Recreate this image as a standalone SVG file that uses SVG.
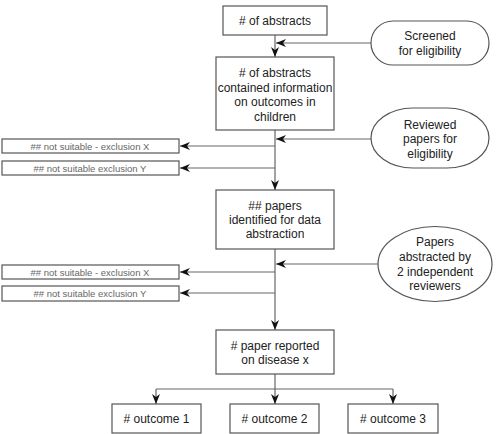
<svg xmlns="http://www.w3.org/2000/svg" width="496" height="434" viewBox="0 0 496 434">
<defs>
<style>
.box{fill:#fff;stroke:#555;stroke-width:1.2}
.t{font-family:"Liberation Sans",Arial,sans-serif;font-size:12px;fill:#222;text-anchor:middle;dominant-baseline:central}
.s{font-family:"Liberation Sans",Arial,sans-serif;font-size:9.5px;fill:#666;text-anchor:middle;dominant-baseline:central}
.c{fill:none;stroke:#666;stroke-width:1.2}
</style>
<marker id="ah" viewBox="0 0 10 8" refX="10" refY="4" markerWidth="10" markerHeight="8" markerUnits="userSpaceOnUse" orient="auto">
<path d="M0,0 L10,4 L0,8 L3,4 z" fill="#111"/>
</marker>
</defs>
<rect width="496" height="434" fill="#fff"/>
<g id="connectors">
<line class="c" x1="275" y1="35" x2="275" y2="57" marker-end="url(#ah)"/>
<line class="c" x1="371" y1="43" x2="276" y2="43" marker-end="url(#ah)"/>
<line class="c" x1="275" y1="130" x2="275" y2="190" marker-end="url(#ah)"/>
<line class="c" x1="371" y1="139" x2="276" y2="139" marker-end="url(#ah)"/>
<line class="c" x1="275" y1="146" x2="180" y2="146" marker-end="url(#ah)"/>
<line class="c" x1="275" y1="168" x2="180" y2="168" marker-end="url(#ah)"/>
<line class="c" x1="275" y1="249" x2="275" y2="330" marker-end="url(#ah)"/>
<line class="c" x1="378" y1="264" x2="276" y2="264" marker-end="url(#ah)"/>
<line class="c" x1="275" y1="272" x2="180" y2="272" marker-end="url(#ah)"/>
<line class="c" x1="275" y1="293" x2="180" y2="293" marker-end="url(#ah)"/>
<line class="c" x1="275" y1="374" x2="275" y2="404" marker-end="url(#ah)"/>
<line class="c" x1="156" y1="389" x2="393" y2="389"/>
<line class="c" x1="156" y1="389" x2="156" y2="404" marker-end="url(#ah)"/>
<line class="c" x1="393" y1="389" x2="393" y2="404" marker-end="url(#ah)"/>
</g>
<g id="n1"><rect class="box" x="223" y="6" width="104" height="29"/><text class="t" x="275" y="21"># of abstracts</text></g>
<g id="n2"><rect class="box" x="216" y="57" width="118" height="73"/>
<text class="t" x="275" y="73"># of abstracts</text><text class="t" x="275" y="88">contained information</text><text class="t" x="275" y="102">on outcomes in</text><text class="t" x="275" y="117">children</text></g>
<g id="e1"><rect class="box" x="371" y="21" width="118" height="44" rx="22" ry="22"/>
<text class="t" x="430" y="36">Screened</text><text class="t" x="430" y="51">for eligibility</text></g>
<g id="e2"><rect class="box" x="371" y="108" width="118" height="60" rx="42" ry="30"/>
<text class="t" x="430" y="125">Reviewed</text><text class="t" x="430" y="139">papers for</text><text class="t" x="430" y="154">eligibility</text></g>
<g id="x1"><rect class="box" x="2" y="139" width="177" height="14"/><text class="s" x="90" y="146">## not suitable - exclusion X</text></g>
<g id="x2"><rect class="box" x="2" y="161" width="177" height="14"/><text class="s" x="90" y="168">## not suitable exclusion Y</text></g>
<g id="n3"><rect class="box" x="216" y="190" width="118" height="59"/>
<text class="t" x="275" y="206">## papers</text><text class="t" x="275" y="220">identified for data</text><text class="t" x="275" y="234">abstraction</text></g>
<g id="e3"><ellipse class="box" cx="435" cy="264" rx="57" ry="37.5"/>
<text class="t" x="435" y="242">Papers</text><text class="t" x="435" y="257">abstracted by</text><text class="t" x="435" y="272">2 independent</text><text class="t" x="435" y="286">reviewers</text></g>
<g id="x3"><rect class="box" x="2" y="265" width="177" height="14"/><text class="s" x="90" y="272">## not suitable - exclusion X</text></g>
<g id="x4"><rect class="box" x="2" y="286" width="177" height="15"/><text class="s" x="90" y="293">## not suitable exclusion Y</text></g>
<g id="n4"><rect class="box" x="216" y="330" width="118" height="44"/>
<text class="t" x="275" y="346"># paper reported</text><text class="t" x="275" y="360">on disease x</text></g>
<g id="o1"><rect class="box" x="112" y="404" width="89" height="29"/><text class="t" x="156.5" y="419"># outcome 1</text></g>
<g id="o2"><rect class="box" x="230" y="404" width="89" height="29"/><text class="t" x="274.5" y="419"># outcome 2</text></g>
<g id="o3"><rect class="box" x="348" y="404" width="90" height="29"/><text class="t" x="393" y="419"># outcome 3</text></g>
</svg>
